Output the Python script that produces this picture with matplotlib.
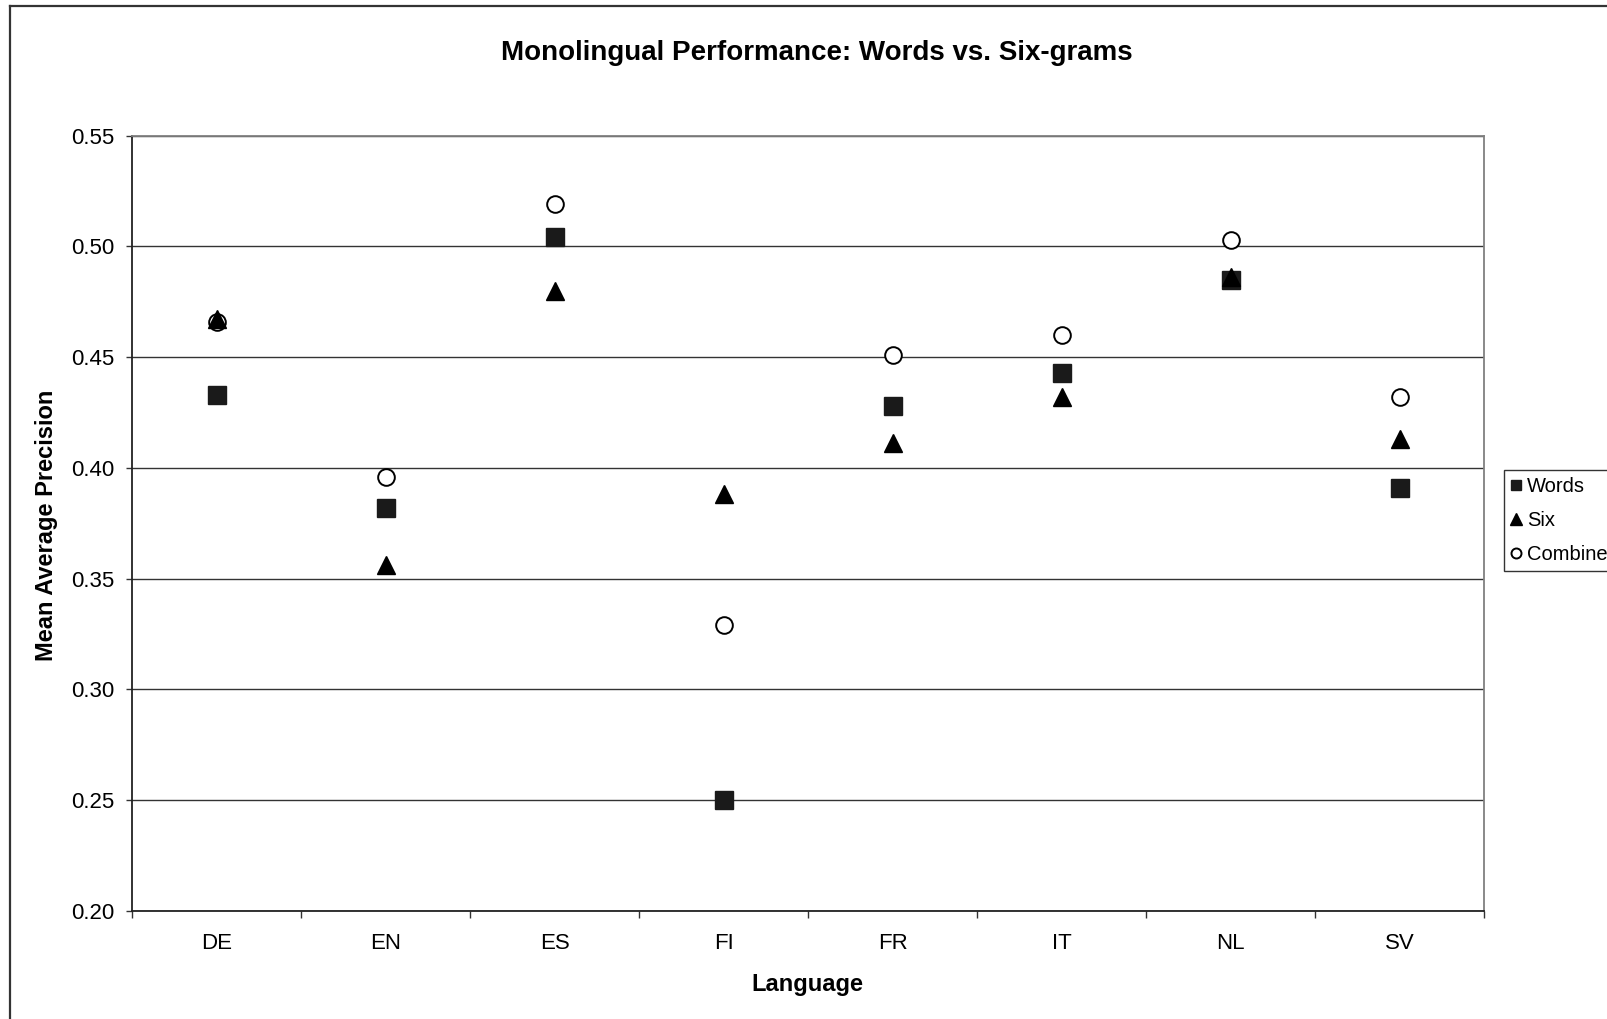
import matplotlib
matplotlib.use("Agg")
import matplotlib.pyplot as plt
from matplotlib.lines import Line2D
import numpy as np

plt.rcParams['font.family'] = ['Liberation Sans', 'DejaVu Sans']

languages = ["DE", "EN", "ES", "FI", "FR", "IT", "NL", "SV"]
words = [0.433, 0.382, 0.504, 0.250, 0.428, 0.443, 0.485, 0.391]
six = [0.467, 0.356, 0.480, 0.388, 0.411, 0.432, 0.486, 0.413]
combined = [0.466, 0.396, 0.519, 0.329, 0.451, 0.460, 0.503, 0.432]
y_ticks = [0.20, 0.25, 0.30, 0.35, 0.40, 0.45, 0.50, 0.55]

W, H = 1607, 1019
fig = plt.figure(figsize=(W / 100, H / 100), dpi=100)

# outer chart frame (right/bottom edges fall outside the picture)
fig.add_artist(Line2D([10 / W, 10 / W], [0, 1 - 6 / H], color="#333333", lw=1.6))
fig.add_artist(Line2D([10 / W, 1], [1 - 6 / H, 1 - 6 / H], color="#333333", lw=1.6))

ax = fig.add_axes([132 / W, 1 - 911 / H, (1484 - 132) / W, (911 - 135.5) / H])

x = np.arange(len(languages))
ax.plot(x, words, ls="none", marker="s", ms=12.5, color="#1a1a1a", label="Words", zorder=3)
ax.plot(x, six, ls="none", marker="^", ms=13.5, color="black", label="Six", zorder=4)
ax.plot(x, combined, ls="none", marker="o", ms=12, mfc="white", mec="black",
        mew=1.4, label="Combined", zorder=3)

ax.set_xlim(-0.5, len(languages) - 0.5)
ax.set_ylim(0.20, 0.55)
ax.set_yticks(y_ticks)
ax.set_yticklabels([f"{v:.2f}" for v in y_ticks], fontsize=16)
ax.yaxis.grid(True, color="#333333", lw=1.0)
ax.set_axisbelow(True)

# ticks at category boundaries, labels at centres
ax.set_xticks(np.arange(-0.5, len(languages), 1.0))
ax.set_xticklabels([])
ax.set_xticks(x, minor=True)
ax.set_xticklabels(languages, minor=True, fontsize=16)
ax.tick_params(axis="x", which="major", direction="out", length=5, width=1, color="#333333")
ax.tick_params(axis="x", which="minor", length=0, pad=16)
ax.tick_params(axis="y", direction="out", length=4.5, width=1, color="#333333", pad=8)

for side in ["top", "right"]:
    ax.spines[side].set_color("#808080")
    ax.spines[side].set_linewidth(1.3)
for side in ["left", "bottom"]:
    ax.spines[side].set_color("#222222")
    ax.spines[side].set_linewidth(1.3)

fig.text(817 / W, 1 - 53 / H, "Monolingual Performance: Words vs. Six-grams",
         ha="center", va="center", fontsize=20, fontweight="bold")
fig.text(47 / W, 1 - 525 / H, "Mean Average Precision", rotation=90,
         ha="center", va="center", fontsize=17, fontweight="bold")
fig.text(807 / W, 1 - 984 / H, "Language", ha="center", va="center",
         fontsize=17, fontweight="bold")

leg = fig.legend(loc="upper left", bbox_to_anchor=(1504 / W, 1 - 470 / H),
                 fontsize=14.5, markerscale=0.6, handlelength=0.5, handletextpad=0.3,
                 borderpad=0.35, labelspacing=0.75, frameon=True, fancybox=False,
                 edgecolor="black", borderaxespad=0)
leg.get_frame().set_linewidth(1.0)

fig.savefig("out.png", dpi=100)
